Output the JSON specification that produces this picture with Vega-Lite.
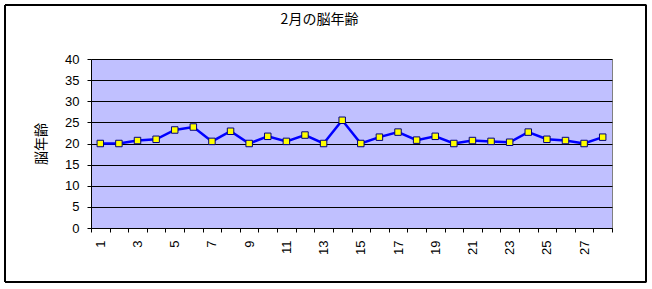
{
  "$schema": "https://vega.github.io/schema/vega-lite/v6.json",
  "width": 521,
  "height": 169,
  "autosize": {"type": "none"},
  "padding": {"left": 91, "top": 59, "right": 40, "bottom": 61},
  "background": "white",
  "title": {
    "text": "2月の脳年齢",
    "font": "Noto Sans CJK JP",
    "fontSize": 14,
    "fontWeight": "normal",
    "color": "black",
    "anchor": "middle",
    "dx": -32,
    "offset": -22
  },
  "config": {
    "view": {"fill": "#C0C0FF", "stroke": "#808080", "strokeWidth": 1},
    "axis": {
      "labelFont": "Liberation Sans",
      "labelFontSize": 13,
      "labelColor": "black",
      "domainColor": "black",
      "tickColor": "black",
      "gridColor": "black",
      "gridOpacity": 1,
      "tickSize": 4
    }
  },
  "data": {
    "values": [
      {"day": 1, "age": 20},
      {"day": 2, "age": 20},
      {"day": 3, "age": 20.7},
      {"day": 4, "age": 21},
      {"day": 5, "age": 23.2},
      {"day": 6, "age": 23.9},
      {"day": 7, "age": 20.5},
      {"day": 8, "age": 22.9},
      {"day": 9, "age": 20},
      {"day": 10, "age": 21.7},
      {"day": 11, "age": 20.5},
      {"day": 12, "age": 22},
      {"day": 13, "age": 20},
      {"day": 14, "age": 25.5},
      {"day": 15, "age": 20},
      {"day": 16, "age": 21.5},
      {"day": 17, "age": 22.7},
      {"day": 18, "age": 20.8},
      {"day": 19, "age": 21.7},
      {"day": 20, "age": 20},
      {"day": 21, "age": 20.7},
      {"day": 22, "age": 20.5},
      {"day": 23, "age": 20.3},
      {"day": 24, "age": 22.7},
      {"day": 25, "age": 21},
      {"day": 26, "age": 20.7},
      {"day": 27, "age": 20},
      {"day": 28, "age": 21.5}
    ]
  },
  "resolve": {"axis": {"x": "independent"}},
  "layer": [
    {
      "mark": {"type": "line", "color": "#0000FF", "strokeWidth": 2.5},
      "encoding": {
        "x": {
          "field": "day",
          "type": "quantitative",
          "scale": {"domain": [0.5, 28.5], "nice": false, "zero": false},
          "axis": {
            "orient": "bottom",
            "title": null,
            "values": [0.5,1.5,2.5,3.5,4.5,5.5,6.5,7.5,8.5,9.5,10.5,11.5,12.5,13.5,14.5,15.5,16.5,17.5,18.5,19.5,20.5,21.5,22.5,23.5,24.5,25.5,26.5,27.5,28.5],
            "labels": false,
            "grid": false,
            "ticks": true,
            "domain": true
          }
        },
        "y": {
          "field": "age",
          "type": "quantitative",
          "scale": {"domain": [0, 40], "nice": false},
          "axis": {
            "title": "脳年齢",
            "titleFont": "Noto Sans CJK JP",
            "titleFontSize": 14,
            "titleFontWeight": "normal",
            "titleColor": "black",
            "titlePadding": 16,
            "values": [0,5,10,15,20,25,30,35,40],
            "grid": true,
            "labelPadding": 8,
            "domain": true
          }
        }
      }
    },
    {
      "mark": {"type": "point", "shape": "square", "filled": true, "fill": "#FFFF00", "stroke": "#000080", "strokeWidth": 1, "size": 42, "opacity": 1},
      "encoding": {
        "x": {
          "field": "day",
          "type": "quantitative",
          "axis": {
            "orient": "bottom",
            "title": null,
            "values": [1,3,5,7,9,11,13,15,17,19,21,23,25,27],
            "ticks": false,
            "domain": false,
            "grid": false,
            "labelAngle": 270,
            "labelAlign": "right",
            "labelBaseline": "middle",
            "labelPadding": 12
          }
        },
        "y": {
          "field": "age",
          "type": "quantitative",
          "axis": {
            "title": "脳年齢",
            "titleFont": "Noto Sans CJK JP",
            "titleFontSize": 14,
            "titleFontWeight": "normal",
            "titleColor": "black",
            "titlePadding": 16,
            "values": [0,5,10,15,20,25,30,35,40],
            "grid": true,
            "labelPadding": 8,
            "domain": true
          }
        }
      }
    },
    {
      "mark": {"type": "rect", "fill": null, "stroke": "black", "strokeWidth": 1, "clip": false},
      "encoding": {
        "x": {"datum": -4.12, "type": "quantitative", "axis": null},
        "x2": {"datum": 30.33},
        "y": {
          "datum": -12.78,
          "type": "quantitative",
          "axis": {
            "title": "脳年齢",
            "titleFont": "Noto Sans CJK JP",
            "titleFontSize": 14,
            "titleFontWeight": "normal",
            "titleColor": "black",
            "titlePadding": 16,
            "values": [0,5,10,15,20,25,30,35,40],
            "grid": true,
            "labelPadding": 8,
            "domain": true
          }
        },
        "y2": {"datum": 52.78}
      }
    }
  ]
}
